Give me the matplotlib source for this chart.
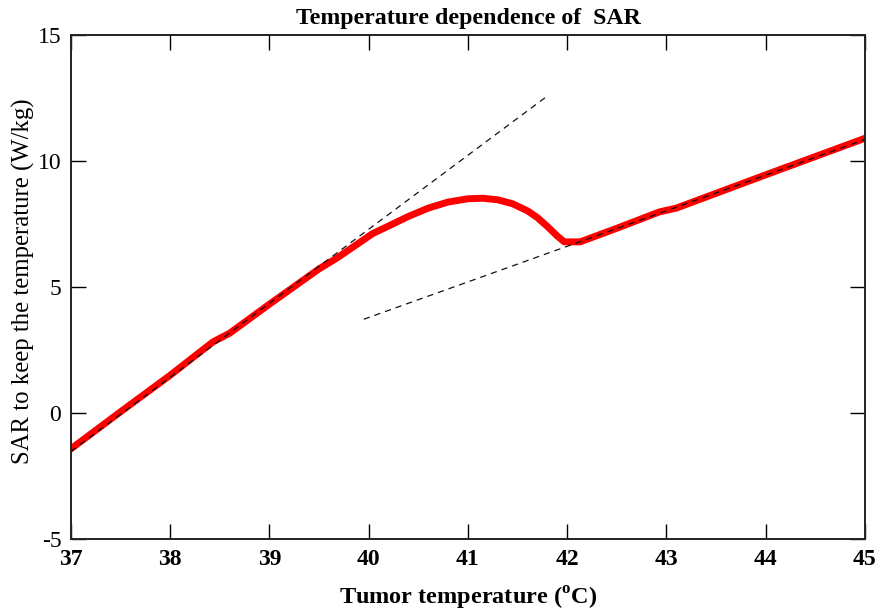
import numpy as np
import matplotlib
matplotlib.use('Agg')
import matplotlib.pyplot as plt

matplotlib.rcParams['font.family'] = 'Liberation Serif'
matplotlib.rcParams['axes.unicode_minus'] = False
matplotlib.rcParams['mathtext.fontset'] = 'custom'
matplotlib.rcParams['mathtext.rm'] = 'Liberation Serif'
matplotlib.rcParams['mathtext.bf'] = 'Liberation Serif:bold'

# SAR needed to hold the tumor at a given temperature
temp = [37.0, 37.5, 38.0, 38.43, 38.6, 39.0, 39.5, 39.68, 40.04, 40.2, 40.4,
        40.6, 40.8, 41.0, 41.15, 41.3, 41.45, 41.6, 41.7, 41.8, 41.9, 41.97,
        42.13, 42.5, 42.93, 43.1, 44.0, 45.0]
sar = [-1.42, 0.05, 1.5, 2.82, 3.17, 4.32, 5.72, 6.15, 7.12, 7.42, 7.8,
       8.13, 8.37, 8.5, 8.52, 8.46, 8.3, 8.02, 7.75, 7.4, 7.02, 6.79,
       6.79, 7.33, 7.98, 8.13, 9.45, 10.9]

# asymptotes below and above the transition
low_x = [37.0, 41.78]
low_y = [-1.52, 12.52]
high_x = [39.95, 45.0]
high_y = [3.72, 10.85]

fig = plt.figure(figsize=(8.92, 6.13), dpi=100)
ax = fig.add_axes([0.0796, 0.1207, 0.8901, 0.8223])

ax.plot(temp, sar, color='red', lw=5, solid_joinstyle='round', zorder=2)
ax.plot(low_x, low_y, color='#111111', lw=0.9, ls=(0, (5, 4)), zorder=3)
ax.plot(high_x, high_y, color='#111111', lw=0.9, ls=(0, (5, 4)), zorder=3)

ax.set_xlim(37, 45)
ax.set_ylim(-5, 15)
ax.set_xticks(np.arange(37, 46, 1))
ax.set_yticks([-5, 0, 5, 10, 15])

ax.tick_params(direction='in', length=11, width=1, top=True, right=True,
               labelsize=17, pad=7)
for lab in ax.get_xticklabels():
    lab.set_fontweight('bold')
for s in ax.spines.values():
    s.set_linewidth(1.4)
    s.set_color('#222222')

ax.set_title('Temperature dependence of  SAR', fontsize=17.2, fontweight='bold', pad=8)
ax.set_xlabel('Tumor temperature ($^{\\mathbf{o}}$C)', fontsize=17.5, fontweight='bold', labelpad=11)
ax.set_ylabel('SAR to keep the temperature (W/kg)', fontsize=17.8)
ax.yaxis.set_label_coords(-0.045, 0.512)

fig.savefig('out.png', dpi=100)
